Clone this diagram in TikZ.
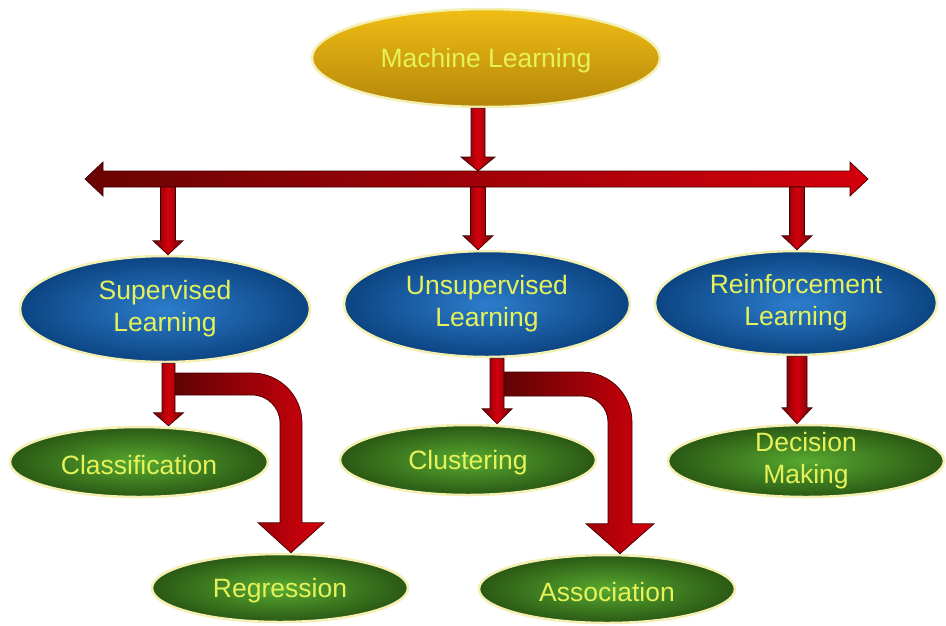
\documentclass[tikz,border=0pt]{standalone}
\usepackage{fontspec}
\setmainfont{Liberation Sans}
\usetikzlibrary{shapes.geometric,calc}

\definecolor{mlTop}{HTML}{F0BE14}
\definecolor{mlBot}{HTML}{B4860A}
\definecolor{blueIn}{HTML}{2C7DCC}
\definecolor{blueOut}{HTML}{0C4482}
\definecolor{greenIn}{HTML}{58AA30}
\definecolor{greenOut}{HTML}{2A5814}
\definecolor{glow}{HTML}{F4F0B4}
\definecolor{labelcol}{HTML}{E6F25A}
\definecolor{arrDark}{HTML}{6A0404}
\definecolor{arrRed}{HTML}{D4000C}
\definecolor{arrLine}{HTML}{420000}

% straight block arrow pointing down:
% #1 style, #2 start point, #3 tip point, #4 shaft half width,
% #5 head half width, #6 head length
\newcommand\downblock[6]{%
  \path[#1] let \p1=#2, \p2=#3 in
    (\x2-#4,\y1) -- (\x2+#4,\y1) -- (\x2+#4,\y2+#6) -- (\x2+#5,\y2+#6)
    -- (\x2,\y2) -- (\x2-#5,\y2+#6) -- (\x2-#4,\y2+#6) -- cycle;}

% block arrow that runs right, bends round a corner and points down:
% #1 style, #2 start on the band centre line, #3 tip point,
% #4 half width, #5 head half width, #6 head length
% outer corner radius 50pt, inner radius 50pt minus the band width
\newcommand\bentblock[6]{%
  \path[#1] let \p1=#2, \p2=#3, \n1={50-2*#4} in
    (\x1,\y1+#4pt) -- (\x2+#4pt-50pt,\y1+#4pt)
    .. controls (\x2+#4pt-22.4pt,\y1+#4pt) and (\x2+#4pt,\y1+#4pt-22.4pt)
    .. (\x2+#4pt,\y1+#4pt-50pt)
    -- (\x2+#4pt,\y2+#6) -- (\x2+#5,\y2+#6) -- (\x2,\y2)
    -- (\x2-#5,\y2+#6) -- (\x2-#4pt,\y2+#6)
    -- (\x2-#4pt,\y1-#4pt-\n1 pt)
    .. controls (\x2-#4pt,\y1-#4pt-0.4477*\n1 pt) and (\x2-#4pt-0.4477*\n1 pt,\y1-#4pt)
    .. (\x2-#4pt-\n1 pt,\y1-#4pt)
    -- (\x1,\y1-#4pt) -- cycle;}

\tikzset{
  bubble/.style={ellipse, inner sep=-5pt, draw=glow, line width=2.5pt,
    text=labelcol, align=center, font=\fontsize{26.5}{32}\selectfont},
  oneline/.style={text height=24.5pt},
  mlnode/.style={bubble, oneline, top color=mlTop, bottom color=mlBot},
  topic/.style={bubble, inner color=blueIn, outer color=blueOut},
  task/.style={bubble, inner color=greenIn, outer color=greenOut},
  vblock/.style={draw=arrLine, line width=0.7pt, line join=miter,
    left color=arrDark, right color=arrDark, middle color=arrRed},
  hblock/.style={draw=arrLine, line width=0.7pt, line join=miter,
    left color=arrDark, right color=arrRed},
  bblock/.style={draw=arrLine, line width=0.7pt, line join=miter,
    left color=arrDark!85!black, right color=arrRed}
}

\begin{document}
\begin{tikzpicture}[x=1pt,y=-1pt]
  \useasboundingbox (0,0) rectangle (946,625);
  \fill[white] (0,0) rectangle (946,625);

  % categories
  \node[mlnode, minimum width=348pt, minimum height=98pt] (ml) at (486,58) {Machine Learning};
  \node[topic, minimum width=290pt, minimum height=106pt] (sup) at (165,309) {Supervised\\Learning};
  \node[topic, minimum width=286pt, minimum height=106pt] (unsup) at (487,304) {Unsupervised\\Learning};
  \node[topic, minimum width=282pt, minimum height=104pt] (rein) at (796,303) {Reinforcement\\Learning};
  \node[task, oneline, minimum width=258pt, minimum height=70pt] (cls) at (139,462) {Classification};
  \node[task, oneline, minimum width=256pt, minimum height=70pt] (clu) at (468,460) {Clustering};
  \node[task, inner sep=-7pt, minimum width=276pt, minimum height=72pt] (dec) at (806,461) {Decision\\Making};
  \node[task, oneline, minimum width=256pt, minimum height=68pt] (reg) at (280,588) {Regression};
  \node[task, oneline, minimum width=256pt, minimum height=68pt] (asso) at (607,589) {Association};

  % distribution bar
  \coordinate (barL) at (85,179);
  \coordinate (barR) at (868,179);
  \path[hblock] let \p1=(barL), \p2=(barR) in
    (\x1,\y1) -- (\x1+18pt,\y1+17pt) -- (\x1+18pt,\y1+8pt) -- (\x2-18pt,\y2+8pt)
    -- (\x2-18pt,\y2+17pt) -- (\x2,\y2) -- (\x2-18pt,\y2-17pt) -- (\x2-18pt,\y2-8pt)
    -- (\x1+18pt,\y1-8pt) -- (\x1+18pt,\y1-17pt) -- cycle;

  % junctions on the bar
  \coordinate (j0) at (478,171);
  \coordinate (j1) at (168,187);
  \coordinate (j2) at (478,187);
  \coordinate (j3) at (797,187);

  \downblock{vblock}{(ml.south -| j0)}{(j0)}{7pt}{17pt}{14pt}
  \downblock{vblock}{(j1)}{(sup.north -| j1)}{7.5pt}{15pt}{14pt}
  \downblock{vblock}{(j2)}{(unsup.north -| j2)}{7.5pt}{15pt}{14pt}
  \downblock{vblock}{(j3)}{(rein.north -| j3)}{7.5pt}{15pt}{14pt}

  % bent branches
  \coordinate (k1) at (168.5,384);
  \coordinate (t1) at (291,0);
  \coordinate (k2) at (497,384);
  \coordinate (t2) at (620,0);
  \bentblock{bblock}{(k1)}{(reg.north -| t1)}{11}{33pt}{30pt}
  \bentblock{bblock}{(k2)}{(asso.north -| t2)}{12}{34pt}{30pt}

  % straight branches
  \coordinate (xa) at (168.5,0);
  \coordinate (xb) at (497,0);
  \coordinate (xc) at (797,0);
  \downblock{vblock}{(sup.south -| xa)}{(cls.north -| xa)}{6.5pt}{15pt}{13pt}
  \downblock{vblock}{(unsup.south -| xb)}{(clu.north -| xb)}{7pt}{15pt}{15pt}
  \downblock{vblock}{(rein.south -| xc)}{(dec.north -| xc)}{10pt}{15pt}{16pt}
\end{tikzpicture}
\end{document}
